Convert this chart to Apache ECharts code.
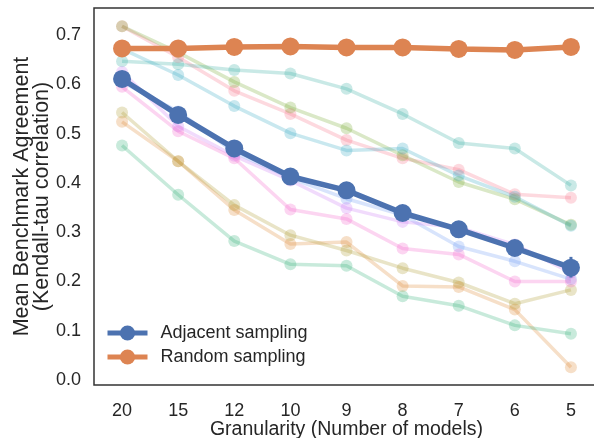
<!DOCTYPE html>
<html><head><meta charset="utf-8">
<script src="https://cdn.jsdelivr.net/npm/echarts@6/dist/echarts.min.js"></script>
<style>html,body{margin:0;padding:0;background:#fff}#c{width:594px;height:438px}</style>
</head><body><div id="c"></div>
<script>
const categories = ['20','15','12','10','9','8','7','6','5'];
const adjacent = [0.611,0.538,0.470,0.413,0.385,0.339,0.306,0.268,0.228];
const adjacentLow = [0.603,0.531,0.463,0.406,0.378,0.332,0.299,0.258,0.208];
const adjacentHigh = [0.619,0.545,0.477,0.420,0.392,0.346,0.313,0.278,0.250];
const random = [0.673,0.673,0.676,0.677,0.675,0.675,0.672,0.670,0.676];
const benchPink = [0.718,0.655,0.587,0.540,0.487,0.450,0.427,0.377,0.370];
const benchPeach = [0.524,0.444,0.345,0.276,0.280,0.191,0.189,0.143,0.026];
const benchTan = [0.543,0.444,0.355,0.294,0.263,0.227,0.198,0.155,0.183];
const benchOlive = [0.718,0.665,0.605,0.553,0.511,0.456,0.402,0.367,0.315];
const benchMint = [0.476,0.376,0.282,0.235,0.232,0.170,0.151,0.111,0.094];
const benchTeal = [0.647,0.641,0.629,0.622,0.591,0.540,0.481,0.470,0.395];
const benchSky = [0.672,0.619,0.556,0.501,0.466,0.470,0.415,0.372,0.313];
const benchPeriwinkle = [0.605,0.545,0.462,0.410,0.368,0.335,0.271,0.241,0.205];
const benchViolet = [0.625,0.515,0.455,0.405,0.349,0.321,0.310,0.275,0.218];
const benchMagenta = [0.595,0.505,0.450,0.346,0.327,0.267,0.255,0.200,0.200];
const yTicks = [0,0.1,0.2,0.3,0.4,0.5,0.6,0.7];

const FONT = '"Liberation Sans", Arial, sans-serif';
const TXT = '#262626';

const faint = [
  [benchPink,'#f77189'],[benchPeach,'#dc8932'],[benchTan,'#ae9d31'],[benchOlive,'#77ab31'],
  [benchMint,'#33b07a'],[benchTeal,'#36ada4'],[benchSky,'#38a9c5'],[benchPeriwinkle,'#6e9bf4'],
  [benchViolet,'#cc7af4'],[benchMagenta,'#f565cc']
];

const series = faint.map(([d,c]) => ({
  type:'line', data:d, symbol:'circle', symbolSize:12, z:1,
  lineStyle:{color:c, width:3.5, opacity:0.27},
  itemStyle:{color:c, opacity:0.27},
  emphasis:{disabled:true}, silent:true, animation:false
}));

series.push({
  name:'Adjacent sampling', type:'line', data:adjacent, symbol:'circle', symbolSize:18, z:5,
  lineStyle:{color:'#4c72b0', width:5.5}, itemStyle:{color:'#4c72b0'}, animation:false
});
series.push({
  type:'custom', z:5, animation:false,
  data: categories.map((c,i)=>[i, adjacentLow[i], adjacentHigh[i]]),
  encode:{x:0, y:[1,2]},
  renderItem:(params, api) => {
    const x = api.value(0);
    const lo = api.coord([x, api.value(1)]);
    const hi = api.coord([x, api.value(2)]);
    return {type:'line', shape:{x1:lo[0],y1:lo[1],x2:hi[0],y2:hi[1]}, style:{stroke:'#4c72b0', lineWidth:3}};
  }
});
series.push({
  name:'Random sampling', type:'line', data:random, symbol:'circle', symbolSize:18, z:6,
  lineStyle:{color:'#dd8452', width:5.5}, itemStyle:{color:'#dd8452'}, animation:false
});

const chart = echarts.init(document.getElementById('c'));
chart.setOption({
  backgroundColor:'#fff',
  animation:false,
  grid:{left:94, right:-5, top:8, bottom:53, show:true, borderColor:'#333', borderWidth:1.5,
    containLabel:false, outerBoundsMode:'none'},
  legend:{
    data:['Adjacent sampling','Random sampling'], orient:'vertical', left:100, top:319,
    itemWidth:40, itemHeight:19, itemGap:6,
    lineStyle:{width:5},
    textStyle:{fontFamily:FONT, fontSize:18, color:TXT, padding:[0,0,0,8]}
  },
  xAxis:{
    type:'category', data:categories, boundaryGap:true,
    axisLine:{show:false}, axisTick:{show:false}, splitLine:{show:false},
    axisLabel:{fontFamily:FONT, fontSize:18, color:TXT, margin:17},
    name:'Granularity (Number of models)', nameLocation:'middle', nameGap:35, nameMoveOverlap:false,
    nameTextStyle:{fontFamily:FONT, fontSize:19.5, color:TXT}
  },
  yAxis:{
    type:'value', min:-0.01, max:0.755,
    axisLine:{show:false}, axisTick:{show:false}, splitLine:{show:false},
    axisLabel:{fontFamily:FONT, fontSize:18, color:TXT, margin:13, customValues:yTicks,
      formatter:v=>v.toFixed(1)},
    name:'Mean Benchmark Agreement\n(Kendall-tau correlation)', nameLocation:'middle', nameGap:42, nameRotate:90,
    nameMoveOverlap:false,
    nameTextStyle:{fontFamily:FONT, fontSize:21.5, color:TXT, lineHeight:20}
  },
  series
});
</script></body></html>
